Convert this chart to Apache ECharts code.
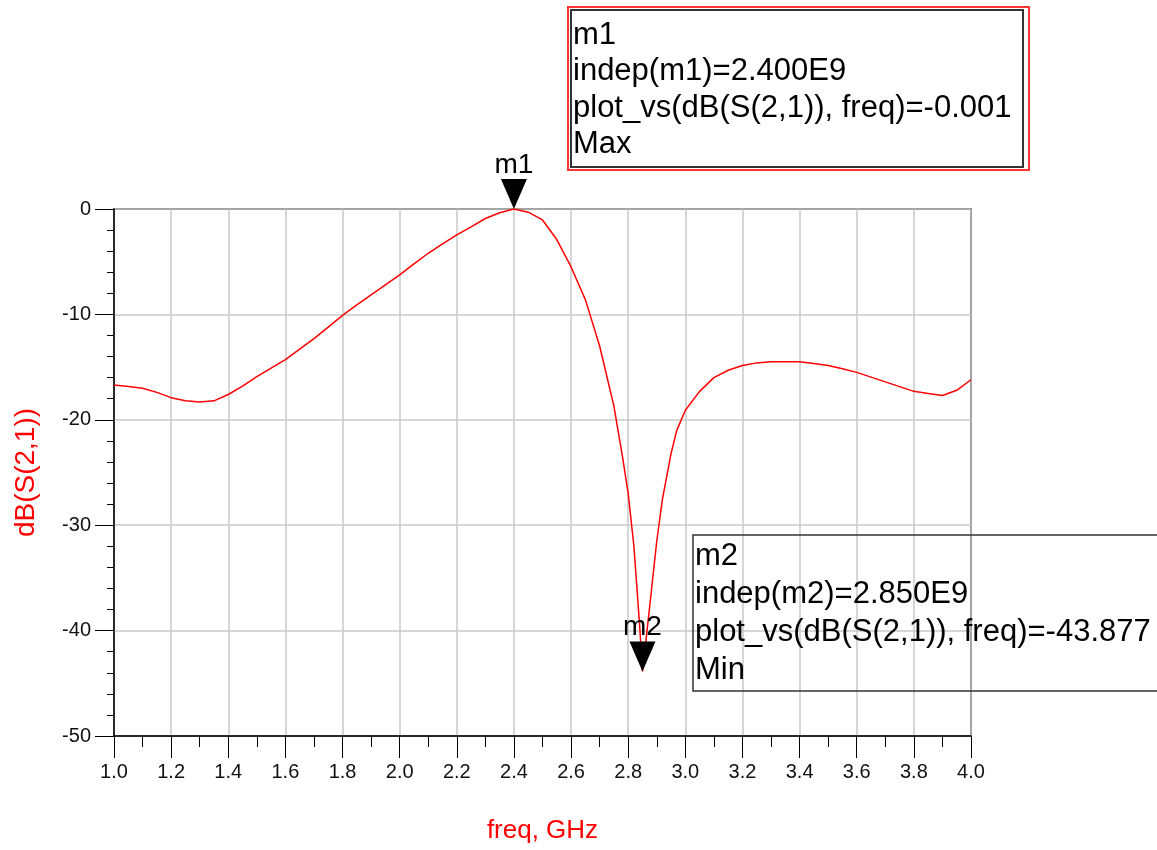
<!DOCTYPE html>
<html>
<head>
<meta charset="utf-8">
<title>dB(S(2,1))</title>
<script src="https://cdn.jsdelivr.net/npm/echarts@6/dist/echarts.min.js"></script>
<style>
  html, body { margin: 0; padding: 0; background: #fff; }
  #chart { width: 1157px; height: 850px; }
</style>
</head>
<body>
<div id="chart"></div>
<script>
// freq in GHz
const freqs = [
  1.00, 1.05, 1.10, 1.15, 1.20, 1.25, 1.30, 1.35, 1.40, 1.45,
  1.50, 1.55, 1.60, 1.65, 1.70, 1.75, 1.80, 1.85, 1.90, 1.95,
  2.00, 2.05, 2.10, 2.15, 2.20, 2.25, 2.30, 2.35, 2.40, 2.45,
  2.50, 2.55, 2.60, 2.65, 2.70, 2.75, 2.78, 2.80, 2.82, 2.84,
  2.85, 2.86, 2.88, 2.90, 2.92, 2.95, 2.97, 3.00, 3.05, 3.10,
  3.15, 3.20, 3.25, 3.30, 3.35, 3.40, 3.45, 3.50, 3.55, 3.60,
  3.65, 3.70, 3.75, 3.80, 3.85, 3.90, 3.95, 4.00
];
// dB(S(2,1))
const s21 = [
  -16.7, -16.85, -17.0, -17.4, -17.9, -18.2, -18.3, -18.2, -17.6, -16.8,
  -15.9, -15.1, -14.3, -13.3, -12.3, -11.2, -10.1, -9.1, -8.15, -7.2,
  -6.25, -5.2, -4.2, -3.3, -2.46, -1.7, -0.9, -0.35, -0.001, -0.3,
  -1.04, -2.9, -5.5, -8.6, -13.0, -18.7, -23.5, -27.0, -32.0, -39.5,
  -43.877, -41.5, -36.5, -31.5, -27.5, -23.2, -21.0, -19.1, -17.3, -16.0,
  -15.3, -14.85, -14.6, -14.5, -14.5, -14.5, -14.65, -14.85, -15.15, -15.5,
  -15.95, -16.4, -16.85, -17.3, -17.5, -17.7, -17.2, -16.2
];

// markers
const markerNames = ["m1", "m2"];
const markerFreqs = [2.4, 2.85];
const markerValues = [-0.001, -43.877];
const markerKinds = ["Max", "Min"];

const chart = echarts.init(document.getElementById("chart"));

const FONT = "Arial, 'Liberation Sans', sans-serif";

function markerLines(i) {
  return [
    markerNames[i],
    "indep(" + markerNames[i] + ")=" + (markerFreqs[i]).toFixed(3) + "E9",
    "plot_vs(dB(S(2,1)), freq)=" + markerValues[i].toFixed(3),
    markerKinds[i],
  ];
}

// text boxes for markers (m1 has a red outer frame, m2 is open on the right)
function boxText(lines, x, y0, step) {
  return lines.map((t, k) => ({
    type: "text",
    x: x,
    y: y0 + k * step,
    z: 100,
    style: {
      text: t,
      font: "31px " + FONT,
      fill: "#000",
      verticalAlign: "middle",
    },
  }));
}

const graphics = [
  {
    type: "rect",
    shape: { x: 568, y: 7, width: 461, height: 163 },
    style: { fill: "#fff", stroke: "#ff3333", lineWidth: 2 },
    z: 90,
  },
  {
    type: "rect",
    shape: { x: 571, y: 10, width: 452, height: 157 },
    style: { fill: "none", stroke: "#333", lineWidth: 2 },
    z: 91,
  },
  {
    type: "rect",
    shape: { x: 693, y: 535, width: 500, height: 156 },
    style: { fill: "none", stroke: "#333", lineWidth: 1.5 },
    z: 91,
  },
]
  .concat(boxText(markerLines(0), 573, 35, 36.5))
  .concat(boxText(markerLines(1), 695, 556, 38));

const option = {
  backgroundColor: "#fff",
  animation: false,
  grid: {
    left: 114,
    top: 209,
    width: 857,
    height: 527,
    show: true,
    borderColor: "#000",
    borderWidth: 1.5,
  },
  xAxis: {
    type: "value",
    min: 1,
    max: 4,
    interval: 0.2,
    name: "freq, GHz",
    nameLocation: "middle",
    nameGap: 82,
    nameTextStyle: { color: "#ff0000", fontSize: 26, fontFamily: FONT },
    axisLine: { onZero: false, lineStyle: { color: "#000", width: 1.5 } },
    axisTick: { inside: false, length: 22, lineStyle: { color: "#000" } },
    minorTick: { show: true, splitNumber: 2, length: 11, lineStyle: { color: "#000" } },
    axisLabel: {
      color: "#111",
      fontSize: 20,
      fontFamily: FONT,
      margin: 26,
      formatter: (v) => v.toFixed(1),
    },
    splitLine: { show: true, lineStyle: { color: "#c8c8c8", width: 1.5 } },
  },
  yAxis: {
    type: "value",
    min: -50,
    max: 0,
    interval: 10,
    name: "dB(S(2,1))",
    nameLocation: "middle",
    nameRotate: 90,
    nameGap: 74,
    nameTextStyle: { color: "#ff0000", fontSize: 28, fontFamily: FONT },
    axisLine: { onZero: false, lineStyle: { color: "#000", width: 1.5 } },
    axisTick: { inside: false, length: 19, lineStyle: { color: "#000" } },
    minorTick: { show: true, splitNumber: 5, length: 7, lineStyle: { color: "#000" } },
    axisLabel: { color: "#111", fontSize: 20, fontFamily: FONT, margin: 23 },
    splitLine: { show: true, lineStyle: { color: "#c8c8c8", width: 1.5 } },
  },
  series: [
    {
      type: "line",
      data: freqs.map((f, i) => [f, s21[i]]),
      showSymbol: false,
      smooth: false,
      lineStyle: { color: "#ff0000", width: 1.5 },
      markPoint: {
        symbol: "triangle",
        symbolRotate: 180,
        symbolSize: [26, 30],
        symbolOffset: [0, -15],
        itemStyle: { color: "#000" },
        label: {
          show: true,
          position: "top",
          distance: 0,
          color: "#000",
          fontSize: 28,
          fontFamily: FONT,
          formatter: (p) => p.name,
        },
        data: markerNames.map((n, i) => ({
          name: n,
          coord: [markerFreqs[i], markerValues[i]],
        })),
      },
    },
  ],
  graphic: graphics,
};

chart.setOption(option);
</script>
</body>
</html>
